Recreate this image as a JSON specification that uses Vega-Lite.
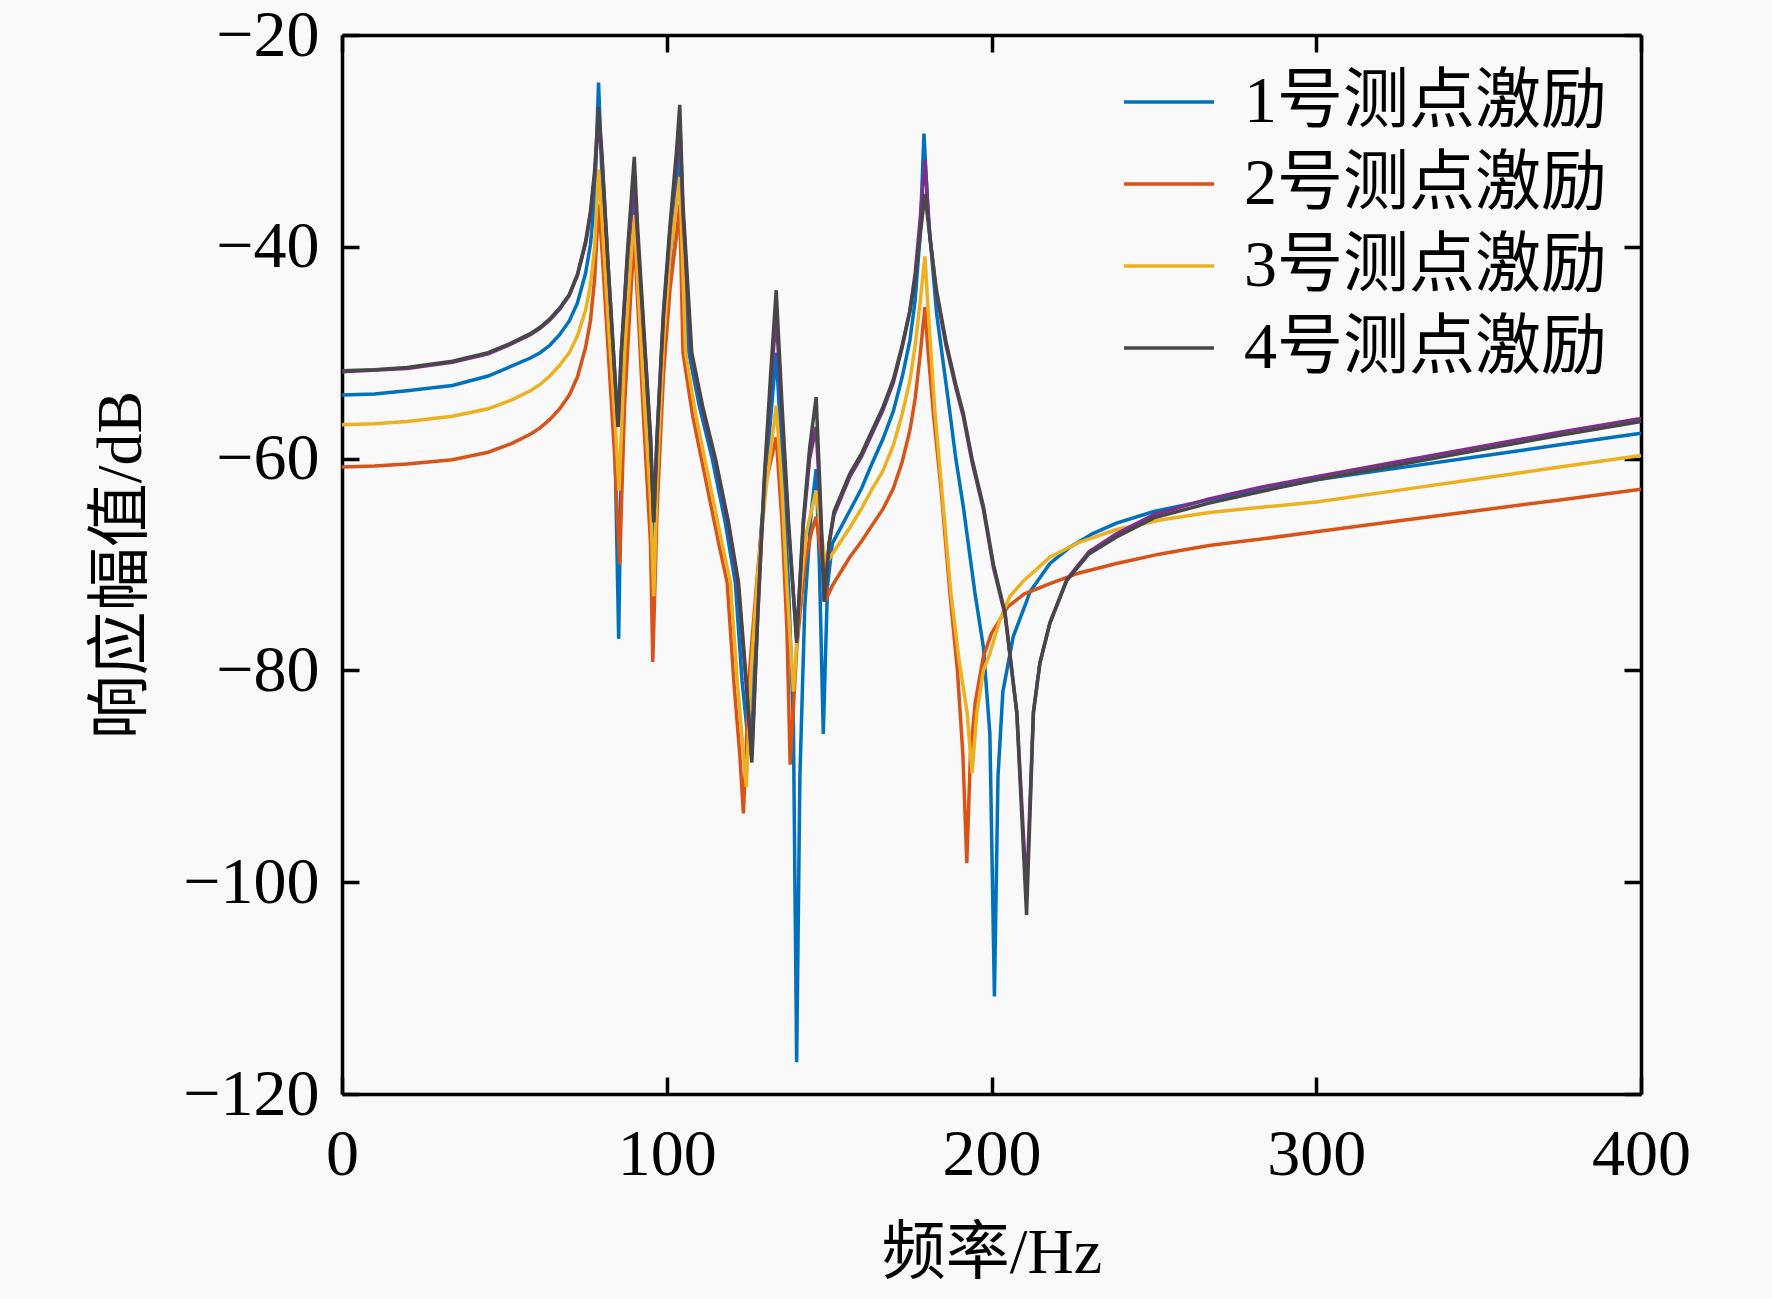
{
  "$schema": "https://vega.github.io/schema/vega-lite/v6.json",
  "width": 1299,
  "height": 1059,
  "autosize": {"type": "none"},
  "padding": {"left": 342, "top": 35, "right": 131, "bottom": 205},
  "background": "#f9f9f9",
  "config": {
    "view": {"stroke": null},
    "axis": {
      "labelFont": "Liberation Serif",
      "labelFontSize": 66,
      "labelColor": "#000000",
      "labelFlush": false,
      "labelOverlap": false,
      "titleFont": "Liberation Serif, Noto Sans CJK SC",
      "titleFontSize": 64,
      "titleFontWeight": "normal",
      "titleColor": "#000000",
      "domainColor": "#000000",
      "domainWidth": 3.5,
      "tickColor": "#000000",
      "tickWidth": 3.5,
      "tickSize": -17,
      "grid": false
    },
    "legend": {
      "labelFont": "Liberation Serif, Noto Sans CJK SC",
      "labelFontSize": 66,
      "labelColor": "#000000",
      "labelLimit": 0
    }
  },
  "data": {
    "values": [
      {"s": "1号测点激励", "f": 0, "v": -54.0},
      {"s": "1号测点激励", "f": 10, "v": -53.9},
      {"s": "1号测点激励", "f": 20, "v": -53.6},
      {"s": "1号测点激励", "f": 34, "v": -53.1},
      {"s": "1号测点激励", "f": 45, "v": -52.2},
      {"s": "1号测点激励", "f": 52, "v": -51.3},
      {"s": "1号测点激励", "f": 58, "v": -50.5},
      {"s": "1号测点激励", "f": 61, "v": -50.0},
      {"s": "1号测点激励", "f": 64, "v": -49.3},
      {"s": "1号测点激励", "f": 67, "v": -48.3},
      {"s": "1号测点激励", "f": 70, "v": -47.0},
      {"s": "1号测点激励", "f": 72.5, "v": -45.3},
      {"s": "1号测点激励", "f": 75, "v": -42.5},
      {"s": "1号测点激励", "f": 76.5, "v": -39.8},
      {"s": "1号测点激励", "f": 77.8, "v": -35.5},
      {"s": "1号测点激励", "f": 79, "v": -24.5},
      {"s": "1号测点激励", "f": 80, "v": -33},
      {"s": "1号测点激励", "f": 82, "v": -45},
      {"s": "1号测点激励", "f": 84, "v": -58},
      {"s": "1号测点激励", "f": 85.2, "v": -77},
      {"s": "1号测点激励", "f": 86, "v": -60},
      {"s": "1号测点激励", "f": 88, "v": -45},
      {"s": "1号测点激励", "f": 90, "v": -36},
      {"s": "1号测点激励", "f": 91, "v": -42},
      {"s": "1号测点激励", "f": 93, "v": -52},
      {"s": "1号测点激励", "f": 95, "v": -60},
      {"s": "1号测点激励", "f": 96, "v": -70},
      {"s": "1号测点激励", "f": 97, "v": -62},
      {"s": "1号测点激励", "f": 99, "v": -50},
      {"s": "1号测点激励", "f": 101, "v": -42},
      {"s": "1号测点激励", "f": 103, "v": -35},
      {"s": "1号测点激励", "f": 104, "v": -30},
      {"s": "1号测点激励", "f": 105, "v": -40},
      {"s": "1号测点激励", "f": 106.8, "v": -50},
      {"s": "1号测点激励", "f": 110, "v": -55},
      {"s": "1号测点激励", "f": 114, "v": -60},
      {"s": "1号测点激励", "f": 118, "v": -66},
      {"s": "1号测点激励", "f": 121.1, "v": -71.7},
      {"s": "1号测点激励", "f": 123.2, "v": -81},
      {"s": "1号测点激励", "f": 125.5, "v": -88},
      {"s": "1号测点激励", "f": 127, "v": -78},
      {"s": "1号测点激励", "f": 129, "v": -67},
      {"s": "1号测点激励", "f": 131.5, "v": -58},
      {"s": "1号测点激励", "f": 133.7, "v": -50},
      {"s": "1号测点激励", "f": 135.5, "v": -60},
      {"s": "1号测点激励", "f": 137.5, "v": -72},
      {"s": "1号测点激励", "f": 139, "v": -85},
      {"s": "1号测点激励", "f": 140, "v": -117},
      {"s": "1号测点激励", "f": 141, "v": -90},
      {"s": "1号测点激励", "f": 142.5, "v": -74},
      {"s": "1号测点激励", "f": 144.5, "v": -65},
      {"s": "1号测点激励", "f": 146, "v": -61},
      {"s": "1号测点激励", "f": 147, "v": -70},
      {"s": "1号测点激励", "f": 148.2, "v": -86},
      {"s": "1号测点激励", "f": 149.5, "v": -72},
      {"s": "1号测点激励", "f": 151, "v": -68},
      {"s": "1号测点激励", "f": 156.4, "v": -64.9},
      {"s": "1号测点激励", "f": 160, "v": -62.8},
      {"s": "1号测点激励", "f": 163, "v": -60.6},
      {"s": "1号测点激励", "f": 166.5, "v": -58.2},
      {"s": "1号测点激励", "f": 169.8, "v": -55.5},
      {"s": "1号测点激励", "f": 172.5, "v": -52.3},
      {"s": "1号测点激励", "f": 174.9, "v": -48.8},
      {"s": "1号测点激励", "f": 176.5, "v": -45},
      {"s": "1号测点激励", "f": 178, "v": -39},
      {"s": "1号测点激励", "f": 179.2, "v": -29.3},
      {"s": "1号测点激励", "f": 180.5, "v": -37},
      {"s": "1号测点激励", "f": 183.1, "v": -46.3},
      {"s": "1号测点激励", "f": 187.2, "v": -55.7},
      {"s": "1号测点激励", "f": 189, "v": -60},
      {"s": "1号测点激励", "f": 191.3, "v": -64.5},
      {"s": "1号测点激励", "f": 194.9, "v": -72.7},
      {"s": "1号测点激励", "f": 197.5, "v": -77.8},
      {"s": "1号测点激励", "f": 199.5, "v": -86},
      {"s": "1号测点激励", "f": 200.9, "v": -110.8},
      {"s": "1号测点激励", "f": 202, "v": -90},
      {"s": "1号测点激励", "f": 203.5, "v": -82},
      {"s": "1号测点激励", "f": 206.7, "v": -76.8},
      {"s": "1号测点激励", "f": 212, "v": -72.5},
      {"s": "1号测点激励", "f": 218, "v": -69.9},
      {"s": "1号测点激励", "f": 224, "v": -68.4},
      {"s": "1号测点激励", "f": 231, "v": -67.1},
      {"s": "1号测点激励", "f": 238.5, "v": -66.1},
      {"s": "1号测点激励", "f": 250, "v": -65.0},
      {"s": "1号测点激励", "f": 267, "v": -63.9},
      {"s": "1号测点激励", "f": 283, "v": -63.0},
      {"s": "1号测点激励", "f": 300, "v": -62.0},
      {"s": "1号测点激励", "f": 325, "v": -60.9},
      {"s": "1号测点激励", "f": 350, "v": -59.8},
      {"s": "1号测点激励", "f": 375, "v": -58.7},
      {"s": "1号测点激励", "f": 400, "v": -57.6},

      {"s": "2号测点激励", "f": 0, "v": -60.8},
      {"s": "2号测点激励", "f": 10, "v": -60.7},
      {"s": "2号测点激励", "f": 20, "v": -60.5},
      {"s": "2号测点激励", "f": 34, "v": -60.1},
      {"s": "2号测点激励", "f": 45, "v": -59.4},
      {"s": "2号测点激励", "f": 52, "v": -58.6},
      {"s": "2号测点激励", "f": 58, "v": -57.7},
      {"s": "2号测点激励", "f": 61, "v": -57.1},
      {"s": "2号测点激励", "f": 64, "v": -56.3},
      {"s": "2号测点激励", "f": 67, "v": -55.3},
      {"s": "2号测点激励", "f": 70, "v": -54.0},
      {"s": "2号测点激励", "f": 72.5, "v": -52.3},
      {"s": "2号测点激励", "f": 75, "v": -49.5},
      {"s": "2号测点激励", "f": 76.5, "v": -47},
      {"s": "2号测点激励", "f": 77.8, "v": -43},
      {"s": "2号测点激励", "f": 79, "v": -36},
      {"s": "2号测点激励", "f": 80, "v": -40},
      {"s": "2号测点激励", "f": 82, "v": -50},
      {"s": "2号测点激励", "f": 84, "v": -60},
      {"s": "2号测点激励", "f": 85.5, "v": -70},
      {"s": "2号测点激励", "f": 87, "v": -55},
      {"s": "2号测点激励", "f": 89, "v": -44},
      {"s": "2号测点激励", "f": 90, "v": -39},
      {"s": "2号测点激励", "f": 91, "v": -45},
      {"s": "2号测点激励", "f": 93, "v": -57},
      {"s": "2号测点激励", "f": 95, "v": -68},
      {"s": "2号测点激励", "f": 95.7, "v": -79.2},
      {"s": "2号测点激励", "f": 97, "v": -65},
      {"s": "2号测点激励", "f": 99, "v": -52},
      {"s": "2号测点激励", "f": 101, "v": -44},
      {"s": "2号测点激励", "f": 103, "v": -39},
      {"s": "2号测点激励", "f": 104, "v": -36},
      {"s": "2号测点激励", "f": 105, "v": -50},
      {"s": "2号测点激励", "f": 108, "v": -56},
      {"s": "2号测点激励", "f": 112, "v": -62},
      {"s": "2号测点激励", "f": 116, "v": -68},
      {"s": "2号测点激励", "f": 118.6, "v": -71.7},
      {"s": "2号测点激励", "f": 120.7, "v": -81.2},
      {"s": "2号测点激励", "f": 122.5, "v": -88},
      {"s": "2号测点激励", "f": 123.6, "v": -93.5},
      {"s": "2号测点激励", "f": 125.5, "v": -80},
      {"s": "2号测点激励", "f": 127.7, "v": -71.7},
      {"s": "2号测点激励", "f": 130.5, "v": -62.3},
      {"s": "2号测点激励", "f": 133.7, "v": -58},
      {"s": "2号测点激励", "f": 135.5, "v": -66},
      {"s": "2号测点激励", "f": 137, "v": -76},
      {"s": "2号测点激励", "f": 138, "v": -88.9},
      {"s": "2号测点激励", "f": 140, "v": -78},
      {"s": "2号测点激励", "f": 142.5, "v": -70},
      {"s": "2号测点激励", "f": 144.5, "v": -67},
      {"s": "2号测点激励", "f": 146, "v": -65.5},
      {"s": "2号测点激励", "f": 147.5, "v": -69},
      {"s": "2号测点激励", "f": 149.5, "v": -73},
      {"s": "2号测点激励", "f": 151, "v": -72},
      {"s": "2号测点激励", "f": 156.4, "v": -69.3},
      {"s": "2号测点激励", "f": 160, "v": -67.8},
      {"s": "2号测点激励", "f": 163, "v": -66.4},
      {"s": "2号测点激励", "f": 166.5, "v": -64.8},
      {"s": "2号测点激励", "f": 169.8, "v": -62.8},
      {"s": "2号测点激励", "f": 172.5, "v": -60.3},
      {"s": "2号测点激励", "f": 174.9, "v": -57.3},
      {"s": "2号测点激励", "f": 176.5, "v": -54.3},
      {"s": "2号测点激励", "f": 178, "v": -50.3},
      {"s": "2号测点激励", "f": 179.5, "v": -45.7},
      {"s": "2号测点激励", "f": 180.5, "v": -50},
      {"s": "2号测点激励", "f": 182.1, "v": -55.7},
      {"s": "2号测点激励", "f": 184.5, "v": -63},
      {"s": "2号测点激励", "f": 187.2, "v": -72.7},
      {"s": "2号测点激励", "f": 189.5, "v": -80},
      {"s": "2号测点激励", "f": 191.2, "v": -88},
      {"s": "2号测点激励", "f": 192.4, "v": -98.2},
      {"s": "2号测点激励", "f": 193.5, "v": -88},
      {"s": "2号测点激励", "f": 195, "v": -83},
      {"s": "2号测点激励", "f": 197.5, "v": -78.7},
      {"s": "2号测点激励", "f": 200, "v": -76.5},
      {"s": "2号测点激励", "f": 205, "v": -74},
      {"s": "2号测点激励", "f": 210, "v": -72.8},
      {"s": "2号测点激励", "f": 218, "v": -71.8},
      {"s": "2号测点激励", "f": 227, "v": -70.8},
      {"s": "2号测点激励", "f": 238.5, "v": -69.9},
      {"s": "2号测点激励", "f": 252, "v": -69.0},
      {"s": "2号测点激励", "f": 267, "v": -68.2},
      {"s": "2号测点激励", "f": 283, "v": -67.6},
      {"s": "2号测点激励", "f": 300, "v": -66.9},
      {"s": "2号测点激励", "f": 325, "v": -65.9},
      {"s": "2号测点激励", "f": 350, "v": -64.9},
      {"s": "2号测点激励", "f": 375, "v": -63.9},
      {"s": "2号测点激励", "f": 400, "v": -62.9},

      {"s": "3号测点激励", "f": 0, "v": -56.8},
      {"s": "3号测点激励", "f": 10, "v": -56.7},
      {"s": "3号测点激励", "f": 20, "v": -56.5},
      {"s": "3号测点激励", "f": 34, "v": -56.0},
      {"s": "3号测点激励", "f": 45, "v": -55.3},
      {"s": "3号测点激励", "f": 52, "v": -54.5},
      {"s": "3号测点激励", "f": 58, "v": -53.6},
      {"s": "3号测点激励", "f": 61, "v": -53.0},
      {"s": "3号测点激励", "f": 64, "v": -52.2},
      {"s": "3号测点激励", "f": 67, "v": -51.2},
      {"s": "3号测点激励", "f": 70, "v": -50.0},
      {"s": "3号测点激励", "f": 72.5, "v": -48.4},
      {"s": "3号测点激励", "f": 75, "v": -46},
      {"s": "3号测点激励", "f": 76.5, "v": -43.6},
      {"s": "3号测点激励", "f": 77.8, "v": -40},
      {"s": "3号测点激励", "f": 79, "v": -32.7},
      {"s": "3号测点激励", "f": 80, "v": -37},
      {"s": "3号测点激励", "f": 82, "v": -47},
      {"s": "3号测点激励", "f": 84, "v": -56},
      {"s": "3号测点激励", "f": 85.3, "v": -63},
      {"s": "3号测点激励", "f": 87, "v": -50},
      {"s": "3号测点激励", "f": 89, "v": -41},
      {"s": "3号测点激励", "f": 90, "v": -37},
      {"s": "3号测点激励", "f": 91, "v": -43},
      {"s": "3号测点激励", "f": 93, "v": -54},
      {"s": "3号测点激励", "f": 95, "v": -64},
      {"s": "3号测点激励", "f": 96, "v": -73},
      {"s": "3号测点激励", "f": 97, "v": -62},
      {"s": "3号测点激励", "f": 99, "v": -49},
      {"s": "3号测点激励", "f": 101, "v": -41},
      {"s": "3号测点激励", "f": 103, "v": -36},
      {"s": "3号测点激励", "f": 104, "v": -33.4},
      {"s": "3号测点激励", "f": 105.8, "v": -50},
      {"s": "3号测点激励", "f": 109, "v": -56},
      {"s": "3号测点激励", "f": 113, "v": -62},
      {"s": "3号测点激励", "f": 117, "v": -68},
      {"s": "3号测点激励", "f": 119.6, "v": -71.7},
      {"s": "3号测点激励", "f": 121.7, "v": -81},
      {"s": "3号测点激励", "f": 124.5, "v": -91},
      {"s": "3号测点激励", "f": 126, "v": -80},
      {"s": "3号测点激励", "f": 128, "v": -71},
      {"s": "3号测点激励", "f": 130.5, "v": -63},
      {"s": "3号测点激励", "f": 133.7, "v": -55},
      {"s": "3号测点激励", "f": 135.5, "v": -63},
      {"s": "3号测点激励", "f": 137, "v": -72},
      {"s": "3号测点激励", "f": 139, "v": -82},
      {"s": "3号测点激励", "f": 141, "v": -73},
      {"s": "3号测点激励", "f": 143, "v": -67},
      {"s": "3号测点激励", "f": 146, "v": -63},
      {"s": "3号测点激励", "f": 147.5, "v": -67},
      {"s": "3号测点激励", "f": 149, "v": -70},
      {"s": "3号测点激励", "f": 151, "v": -69},
      {"s": "3号测点激励", "f": 156.4, "v": -66.5},
      {"s": "3号测点激励", "f": 160, "v": -64.7},
      {"s": "3号测点激励", "f": 163, "v": -63.0},
      {"s": "3号测点激励", "f": 166.5, "v": -61.2},
      {"s": "3号测点激励", "f": 169.8, "v": -58.7},
      {"s": "3号测点激励", "f": 172.5, "v": -55.8},
      {"s": "3号测点激励", "f": 174.9, "v": -52.6},
      {"s": "3号测点激励", "f": 176.5, "v": -49.3},
      {"s": "3号测点激励", "f": 178, "v": -45.3},
      {"s": "3号测点激励", "f": 179.5, "v": -40.9},
      {"s": "3号测点激励", "f": 180.5, "v": -46},
      {"s": "3号测点激励", "f": 182.6, "v": -55.7},
      {"s": "3号测点激励", "f": 185, "v": -64},
      {"s": "3号测点激励", "f": 187.5, "v": -72.7},
      {"s": "3号测点激励", "f": 190, "v": -79},
      {"s": "3号测点激励", "f": 192.5, "v": -84},
      {"s": "3号测点激励", "f": 194, "v": -89.7},
      {"s": "3号测点激励", "f": 195.5, "v": -84},
      {"s": "3号测点激励", "f": 197.5, "v": -80},
      {"s": "3号测点激励", "f": 199.5, "v": -78.4},
      {"s": "3号测点激励", "f": 202.6, "v": -75.2},
      {"s": "3号测点激励", "f": 205.7, "v": -73},
      {"s": "3号测点激励", "f": 210, "v": -71.5},
      {"s": "3号测点激励", "f": 218, "v": -69.3},
      {"s": "3号测点激励", "f": 227, "v": -67.9},
      {"s": "3号测点激励", "f": 238.5, "v": -66.7},
      {"s": "3号测点激励", "f": 252, "v": -65.8},
      {"s": "3号测点激励", "f": 267, "v": -65.1},
      {"s": "3号测点激励", "f": 283, "v": -64.6},
      {"s": "3号测点激励", "f": 300, "v": -64.1},
      {"s": "3号测点激励", "f": 325, "v": -63.0},
      {"s": "3号测点激励", "f": 350, "v": -61.9},
      {"s": "3号测点激励", "f": 375, "v": -60.8},
      {"s": "3号测点激励", "f": 400, "v": -59.7},

      {"s": "4号测点激励b", "f": 0, "v": -51.8},
      {"s": "4号测点激励b", "f": 20, "v": -51.5},
      {"s": "4号测点激励b", "f": 34, "v": -50.9},
      {"s": "4号测点激励b", "f": 45, "v": -50.1},
      {"s": "4号测点激励b", "f": 52, "v": -49.2},
      {"s": "4号测点激励b", "f": 58, "v": -48.3},
      {"s": "4号测点激励b", "f": 61, "v": -47.7},
      {"s": "4号测点激励b", "f": 64, "v": -46.9},
      {"s": "4号测点激励b", "f": 67, "v": -45.9},
      {"s": "4号测点激励b", "f": 70, "v": -44.6},
      {"s": "4号测点激励b", "f": 72.5, "v": -42.7},
      {"s": "4号测点激励b", "f": 75, "v": -39.7},
      {"s": "4号测点激励b", "f": 76.5, "v": -37},
      {"s": "4号测点激励b", "f": 77.8, "v": -33.3},
      {"s": "4号测点激励b", "f": 79, "v": -27.8},
      {"s": "4号测点激励b", "f": 80, "v": -31.5},
      {"s": "4号测点激励b", "f": 82, "v": -42},
      {"s": "4号测点激励b", "f": 84, "v": -52},
      {"s": "4号测点激励b", "f": 85, "v": -57},
      {"s": "4号测点激励b", "f": 86, "v": -50},
      {"s": "4号测点激励b", "f": 88, "v": -40.5},
      {"s": "4号测点激励b", "f": 90, "v": -34},
      {"s": "4号测点激励b", "f": 91, "v": -39},
      {"s": "4号测点激励b", "f": 93, "v": -48.5},
      {"s": "4号测点激励b", "f": 95, "v": -58},
      {"s": "4号测点激励b", "f": 96, "v": -66},
      {"s": "4号测点激励b", "f": 97, "v": -58},
      {"s": "4号测点激励b", "f": 99, "v": -46.5},
      {"s": "4号测点激励b", "f": 101, "v": -38.5},
      {"s": "4号测点激励b", "f": 103, "v": -32},
      {"s": "4号测点激励b", "f": 104, "v": -27.8},
      {"s": "4号测点激励b", "f": 105, "v": -37},
      {"s": "4号测点激励b", "f": 107.5, "v": -50},
      {"s": "4号测点激励b", "f": 111, "v": -55.3},
      {"s": "4号测点激励b", "f": 115, "v": -60.3},
      {"s": "4号测点激励b", "f": 119, "v": -66.3},
      {"s": "4号测点激励b", "f": 122, "v": -72},
      {"s": "4号测点激励b", "f": 124.5, "v": -81.5},
      {"s": "4号测点激励b", "f": 126.2, "v": -88},
      {"s": "4号测点激励b", "f": 128, "v": -75},
      {"s": "4号测点激励b", "f": 130, "v": -62.5},
      {"s": "4号测点激励b", "f": 132, "v": -53},
      {"s": "4号测点激励b", "f": 133.7, "v": -46.5},
      {"s": "4号测点激励b", "f": 135.5, "v": -56},
      {"s": "4号测点激励b", "f": 137.5, "v": -66.5},
      {"s": "4号测点激励b", "f": 140, "v": -77},
      {"s": "4号测点激励b", "f": 142, "v": -66.5},
      {"s": "4号测点激励b", "f": 144, "v": -60},
      {"s": "4号测点激励b", "f": 146, "v": -57},
      {"s": "4号测点激励b", "f": 147.2, "v": -64},
      {"s": "4号测点激励b", "f": 148.5, "v": -73.5},
      {"s": "4号测点激励b", "f": 150, "v": -68},
      {"s": "4号测点激励b", "f": 151.5, "v": -65.3},
      {"s": "4号测点激励b", "f": 156.4, "v": -61.7},
      {"s": "4号测点激励b", "f": 160, "v": -59.8},
      {"s": "4号测点激励b", "f": 163, "v": -57.8},
      {"s": "4号测点激励b", "f": 166.5, "v": -55.5},
      {"s": "4号测点激励b", "f": 169.8, "v": -52.8},
      {"s": "4号测点激励b", "f": 172.5, "v": -49.5},
      {"s": "4号测点激励b", "f": 174.9, "v": -46},
      {"s": "4号测点激励b", "f": 176.5, "v": -42.5},
      {"s": "4号测点激励b", "f": 178, "v": -37.5},
      {"s": "4号测点激励b", "f": 179.5, "v": -31.8},
      {"s": "4号测点激励b", "f": 181, "v": -39},
      {"s": "4号测点激励b", "f": 183, "v": -44.3},
      {"s": "4号测点激励b", "f": 186, "v": -49.3},
      {"s": "4号测点激励b", "f": 189, "v": -53.3},
      {"s": "4号测点激励b", "f": 191.3, "v": -56},
      {"s": "4号测点激励b", "f": 194, "v": -60.3},
      {"s": "4号测点激励b", "f": 197.5, "v": -64.8},
      {"s": "4号测点激励b", "f": 200.6, "v": -70.3},
      {"s": "4号测点激励b", "f": 204.2, "v": -74.8},
      {"s": "4号测点激励b", "f": 207.8, "v": -84},
      {"s": "4号测点激励b", "f": 210.8, "v": -101},
      {"s": "4号测点激励b", "f": 212.9, "v": -84},
      {"s": "4号测点激励b", "f": 214.9, "v": -79.3},
      {"s": "4号测点激励b", "f": 218, "v": -75.5},
      {"s": "4号测点激励b", "f": 223.2, "v": -71.4},
      {"s": "4号测点激励b", "f": 230, "v": -68.8},
      {"s": "4号测点激励b", "f": 238.5, "v": -67.1},
      {"s": "4号测点激励b", "f": 250, "v": -65.3},
      {"s": "4号测点激励b", "f": 267, "v": -63.8},
      {"s": "4号测点激励b", "f": 283, "v": -62.7},
      {"s": "4号测点激励b", "f": 300, "v": -61.7},
      {"s": "4号测点激励b", "f": 325, "v": -60.3},
      {"s": "4号测点激励b", "f": 350, "v": -58.9},
      {"s": "4号测点激励b", "f": 375, "v": -57.5},
      {"s": "4号测点激励b", "f": 400, "v": -56.2},

      {"s": "4号测点激励", "f": 0, "v": -51.7},
      {"s": "4号测点激励", "f": 10, "v": -51.6},
      {"s": "4号测点激励", "f": 20, "v": -51.4},
      {"s": "4号测点激励", "f": 34, "v": -50.8},
      {"s": "4号测点激励", "f": 45, "v": -50.0},
      {"s": "4号测点激励", "f": 52, "v": -49.1},
      {"s": "4号测点激励", "f": 58, "v": -48.2},
      {"s": "4号测点激励", "f": 61, "v": -47.6},
      {"s": "4号测点激励", "f": 64, "v": -46.8},
      {"s": "4号测点激励", "f": 67, "v": -45.8},
      {"s": "4号测点激励", "f": 70, "v": -44.5},
      {"s": "4号测点激励", "f": 72.5, "v": -42.6},
      {"s": "4号测点激励", "f": 75, "v": -39.5},
      {"s": "4号测点激励", "f": 76.5, "v": -36.7},
      {"s": "4号测点激励", "f": 77.8, "v": -32.8},
      {"s": "4号测点激励", "f": 79, "v": -26.8},
      {"s": "4号测点激励", "f": 80, "v": -31},
      {"s": "4号测点激励", "f": 82, "v": -42},
      {"s": "4号测点激励", "f": 84, "v": -52},
      {"s": "4号测点激励", "f": 85, "v": -57},
      {"s": "4号测点激励", "f": 86, "v": -50},
      {"s": "4号测点激励", "f": 88, "v": -40},
      {"s": "4号测点激励", "f": 90, "v": -31.5},
      {"s": "4号测点激励", "f": 91, "v": -38},
      {"s": "4号测点激励", "f": 93, "v": -48},
      {"s": "4号测点激励", "f": 95, "v": -58},
      {"s": "4号测点激励", "f": 96, "v": -66},
      {"s": "4号测点激励", "f": 97, "v": -58},
      {"s": "4号测点激励", "f": 99, "v": -46},
      {"s": "4号测点激励", "f": 101, "v": -38},
      {"s": "4号测点激励", "f": 103, "v": -31},
      {"s": "4号测点激励", "f": 104, "v": -26.6},
      {"s": "4号测点激励", "f": 105, "v": -36},
      {"s": "4号测点激励", "f": 107.7, "v": -50},
      {"s": "4号测点激励", "f": 111, "v": -55},
      {"s": "4号测点激励", "f": 115, "v": -60},
      {"s": "4号测点激励", "f": 119, "v": -66},
      {"s": "4号测点激励", "f": 122.1, "v": -71.7},
      {"s": "4号测点激励", "f": 124.5, "v": -81},
      {"s": "4号测点激励", "f": 126.2, "v": -88.7},
      {"s": "4号测点激励", "f": 128, "v": -75},
      {"s": "4号测点激励", "f": 130, "v": -62},
      {"s": "4号测点激励", "f": 132, "v": -52},
      {"s": "4号测点激励", "f": 133.7, "v": -44.1},
      {"s": "4号测点激励", "f": 135.5, "v": -55},
      {"s": "4号测点激励", "f": 137.5, "v": -66},
      {"s": "4号测点激励", "f": 140, "v": -77.4},
      {"s": "4号测点激励", "f": 142, "v": -66},
      {"s": "4号测点激励", "f": 144, "v": -59},
      {"s": "4号测点激励", "f": 146, "v": -54.2},
      {"s": "4号测点激励", "f": 147.2, "v": -63},
      {"s": "4号测点激励", "f": 148.5, "v": -73.5},
      {"s": "4号测点激励", "f": 150, "v": -68},
      {"s": "4号测点激励", "f": 151.5, "v": -65},
      {"s": "4号测点激励", "f": 156.4, "v": -61.4},
      {"s": "4号测点激励", "f": 160, "v": -59.5},
      {"s": "4号测点激励", "f": 163, "v": -57.5},
      {"s": "4号测点激励", "f": 166.5, "v": -55.2},
      {"s": "4号测点激励", "f": 169.8, "v": -52.5},
      {"s": "4号测点激励", "f": 172.5, "v": -49.3},
      {"s": "4号测点激励", "f": 174.9, "v": -46},
      {"s": "4号测点激励", "f": 176.5, "v": -43},
      {"s": "4号测点激励", "f": 178, "v": -39},
      {"s": "4号测点激励", "f": 179.5, "v": -35},
      {"s": "4号测点激励", "f": 181, "v": -39},
      {"s": "4号测点激励", "f": 183, "v": -44},
      {"s": "4号测点激励", "f": 186, "v": -49},
      {"s": "4号测点激励", "f": 189, "v": -53},
      {"s": "4号测点激励", "f": 191.3, "v": -55.7},
      {"s": "4号测点激励", "f": 194, "v": -60},
      {"s": "4号测点激励", "f": 197.5, "v": -64.5},
      {"s": "4号测点激励", "f": 200.6, "v": -70},
      {"s": "4号测点激励", "f": 204.2, "v": -74.6},
      {"s": "4号测点激励", "f": 207.8, "v": -84},
      {"s": "4号测点激励", "f": 210.8, "v": -103.1},
      {"s": "4号测点激励", "f": 212.9, "v": -84},
      {"s": "4号测点激励", "f": 214.9, "v": -79.3},
      {"s": "4号测点激励", "f": 218, "v": -75.5},
      {"s": "4号测点激励", "f": 223.2, "v": -71.5},
      {"s": "4号测点激励", "f": 230, "v": -69},
      {"s": "4号测点激励", "f": 238.5, "v": -67.4},
      {"s": "4号测点激励", "f": 250, "v": -65.6},
      {"s": "4号测点激励", "f": 267, "v": -64.2},
      {"s": "4号测点激励", "f": 283, "v": -63.1},
      {"s": "4号测点激励", "f": 300, "v": -62.0},
      {"s": "4号测点激励", "f": 325, "v": -60.6},
      {"s": "4号测点激励", "f": 350, "v": -59.2},
      {"s": "4号测点激励", "f": 375, "v": -57.8},
      {"s": "4号测点激励", "f": 400, "v": -56.5}
    ]
  },
  "encoding": {
    "x": {
      "field": "f",
      "type": "quantitative",
      "scale": {"domain": [0, 400], "nice": false}
    },
    "y": {
      "field": "v",
      "type": "quantitative",
      "scale": {"domain": [-120, -20], "nice": false}
    }
  },
  "layer": [
    {
      "mark": {"type": "line", "strokeWidth": 3.5, "interpolate": "linear"},
      "encoding": {
        "x": {
          "field": "f",
          "type": "quantitative",
          "axis": {
            "orient": "bottom",
            "values": [0, 100, 200, 300, 400],
            "title": "频率/Hz",
            "labelPadding": 45,
            "titleY": 178,
            "titleBaseline": "alphabetic"
          }
        },
        "y": {
          "field": "v",
          "type": "quantitative",
          "axis": {
            "orient": "left",
            "values": [-120, -100, -80, -60, -40, -20],
            "title": "响应幅值/dB",
            "labelPadding": 40,
            "titleX": -202,
            "titleBaseline": "alphabetic"
          }
        },
        "color": {
          "field": "s",
          "type": "nominal",
          "sort": null,
          "scale": {
            "domain": ["1号测点激励", "2号测点激励", "3号测点激励", "4号测点激励", "4号测点激励b"],
            "range": ["#0072BD", "#D95319", "#EDB120", "#474747", "#7E2F8E"]
          },
          "legend": {
            "values": ["1号测点激励", "2号测点激励", "3号测点激励", "4号测点激励"],
            "title": null,
            "orient": "none",
            "legendX": 780,
            "legendY": 20,
            "symbolType": "stroke",
            "symbolSize": 8100,
            "symbolStrokeWidth": 3.5,
            "labelOffset": 28,
            "rowPadding": 2
          }
        }
      }
    },
    {
      "mark": {"type": "point", "opacity": 0},
      "encoding": {
        "x": {
          "field": "f",
          "type": "quantitative",
          "axis": {
            "orient": "top",
            "values": [0, 100, 200, 300, 400],
            "labels": false,
            "title": null
          }
        },
        "y": {
          "field": "v",
          "type": "quantitative",
          "axis": {
            "orient": "right",
            "values": [-120, -100, -80, -60, -40, -20],
            "labels": false,
            "title": null
          }
        }
      }
    }
  ],
  "resolve": {"axis": {"x": "independent", "y": "independent"}}
}
